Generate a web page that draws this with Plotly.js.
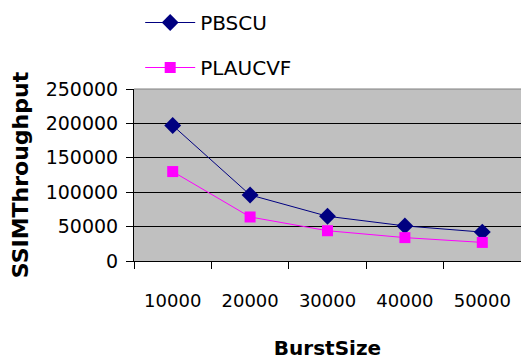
<!DOCTYPE html>
<html>
<head>
<meta charset="utf-8">
<script src="https://cdn.plot.ly/plotly-3.0.1.min.js"></script>
<style>
  html, body { margin: 0; padding: 0; background: #ffffff; }
  #chart { width: 521px; height: 360px; }
</style>
</head>
<body>
<div id="chart"></div>
<script>
// Burst size categories along the x axis
const burstSizes = ['10000', '20000', '30000', '40000', '50000'];

// SSIM throughput per scheme
const pbscu = [197000, 96000, 65000, 51000, 42000];
const plaucvf = [130000, 64000, 44000, 34000, 27000];

// Y axis tick values and labels
const yTickVals = [0, 50000, 100000, 150000, 200000, 250000];
const yTickText = ['0', '50000', '100000', '150000', '200000', '250000'];

const FONT = 'DejaVu Sans, Liberation Sans, Arial, sans-serif';

const traces = [
  {
    name: 'PBSCU',
    x: burstSizes,
    y: pbscu,
    type: 'scatter',
    mode: 'lines+markers',
    legendgroup: 'a',
    line: { color: '#000080', width: 1 },
    marker: { symbol: 'diamond', size: 13, color: '#000080' }
  },
  {
    name: 'PLAUCVF',
    x: burstSizes,
    y: plaucvf,
    type: 'scatter',
    mode: 'lines+markers',
    legendgroup: 'b',
    line: { color: '#FF00FF', width: 1 },
    marker: { symbol: 'square', size: 11, color: '#FF00FF' }
  }
];

const layout = {
  width: 521,
  height: 360,
  margin: { l: 134, r: 0, t: 89, b: 99, pad: 0 },
  paper_bgcolor: '#ffffff',
  plot_bgcolor: '#C0C0C0',
  font: { family: FONT, size: 18, color: '#000000' },
  showlegend: true,
  legend: {
    x: 0.016,
    xanchor: 'left',
    y: 1.50,
    yanchor: 'top',
    bgcolor: 'rgba(0,0,0,0)',
    font: { family: FONT, size: 20, color: '#000000' },
    traceorder: 'grouped',
    tracegroupgap: 16,
    itemwidth: 50
  },
  xaxis: {
    type: 'category',
    range: [-0.5, burstSizes.length - 0.5],
    tickson: 'boundaries',
    ticks: 'outside',
    ticklen: 7,
    tickcolor: '#000000',
    showgrid: false,
    showline: true,
    linecolor: '#000000',
    linewidth: 1,
    zeroline: false,
    tickfont: { family: FONT, size: 18, color: '#000000' },
    ticklabelstandoff: 23,
    title: {
      text: 'BurstSize',
      font: { family: FONT, size: 20, color: '#000000', weight: 'bold' },
      standoff: 34
    },
    automargin: false
  },
  yaxis: {
    range: [0, 250000],
    tickvals: yTickVals,
    ticktext: yTickText,
    ticks: 'outside',
    ticklen: 7,
    tickcolor: '#000000',
    showgrid: true,
    gridcolor: '#000000',
    gridwidth: 1,
    showline: true,
    linecolor: '#000000',
    zeroline: false,
    tickfont: { family: FONT, size: 19, color: '#000000' },
    ticklabelstandoff: 4,
    title: {
      text: 'SSIMThroughput',
      font: { family: FONT, size: 22, color: '#000000', weight: 'bold' },
      standoff: 10
    },
    automargin: false
  },
  shapes: [
    {
      type: 'line', xref: 'paper', yref: 'paper',
      x0: 0, x1: 1, y0: 1, y1: 1,
      line: { color: '#808080', width: 1 }
    }
  ]
};

Plotly.newPlot('chart', traces, layout, { displayModeBar: false, staticPlot: true });
</script>
</body>
</html>
